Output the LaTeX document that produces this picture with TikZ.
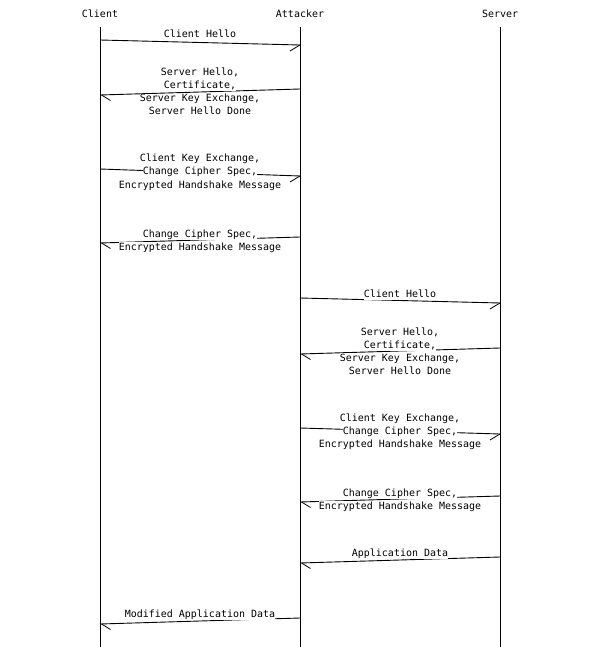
\documentclass[tikz,border=0pt]{standalone}
\usepackage{fontspec}
\setmonofont{DejaVu Sans Mono}
\begin{document}
\begin{tikzpicture}[x=1pt,y=-1pt,
  ent/.style={font=\ttfamily\fontsize{9.97}{12}\selectfont, inner sep=0pt, anchor=base},
  lbl/.style={font=\ttfamily\fontsize{9.97}{12}\selectfont, fill=white, inner sep=0pt, text height=8pt, text depth=2.5pt, anchor=base},
  msg/.style={line width=0.9pt},
  barb/.style={line width=0.8pt},
  life/.style={line width=1pt}]
\useasboundingbox (0,0) rectangle (600,647);
% entities
\node[ent] (client) at (100,18) {Client};
\node[ent] (attacker) at (300,18) {Attacker};
\node[ent] (server) at (500,18) {Server};
\coordinate (ct) at (100,27); \coordinate (cb) at (100,647);
\coordinate (at) at (300,27); \coordinate (ab) at (300,647);
\coordinate (st) at (500,27); \coordinate (sb) at (500,647);
\draw[life] (ct) -- (cb);
\draw[life] (at) -- (ab);
\draw[life] (st) -- (sb);
% message end points
\coordinate (m1s) at (100,40);  \coordinate (m1e) at (300,45);
\coordinate (m2s) at (300,89);  \coordinate (m2e) at (100,95);
\coordinate (m3s) at (100,169); \coordinate (m3e) at (300,176);
\coordinate (m4s) at (300,237); \coordinate (m4e) at (100,243);
\coordinate (m5s) at (300,298); \coordinate (m5e) at (500,303);
\coordinate (m6s) at (500,348); \coordinate (m6e) at (300,354);
\coordinate (m7s) at (300,428); \coordinate (m7e) at (500,434);
\coordinate (m8s) at (500,496); \coordinate (m8e) at (300,502);
\coordinate (m9s) at (500,557); \coordinate (m9e) at (300,563);
\coordinate (m10s) at (300,618); \coordinate (m10e) at (100,624);
% rightward messages
\foreach \m in {m1,m3,m5,m7}{
  \draw[msg] (\m s) -- (\m e);
  \draw[barb] (\m e) -- ++(-10,6);
}
% leftward messages
\foreach \m in {m2,m4,m6,m8,m9,m10}{
  \draw[msg] (\m s) -- (\m e);
  \draw[barb] ([xshift=1.5pt]\m e) -- ++(9,5.5);
}
% labels
\node[lbl] (l1) at (200,38) {Client Hello};
\node[lbl] (l2a) at (200,76) {Server Hello,};
\node[lbl] (l2b) at (200,89) {Certificate,};
\node[lbl] (l2c) at (200,102) {Server Key Exchange,};
\node[lbl] (l2d) at (200,115) {Server Hello Done};
\node[lbl] (l3a) at (200,162) {Client Key Exchange,};
\node[lbl] (l3b) at (200,175) {Change Cipher Spec,};
\node[lbl] (l3c) at (200,188) {Encrypted Handshake Message};
\node[lbl] (l4a) at (200,237) {Change Cipher Spec,};
\node[lbl] (l4b) at (200,250) {Encrypted Handshake Message};
\node[lbl] (l5) at (400,297) {Client Hello};
\node[lbl] (l6a) at (400,335) {Server Hello,};
\node[lbl] (l6b) at (400,348) {Certificate,};
\node[lbl] (l6c) at (400,361) {Server Key Exchange,};
\node[lbl] (l6d) at (400,374) {Server Hello Done};
\node[lbl] (l7a) at (400,421) {Client Key Exchange,};
\node[lbl] (l7b) at (400,434) {Change Cipher Spec,};
\node[lbl] (l7c) at (400,447) {Encrypted Handshake Message};
\node[lbl] (l8a) at (400,496) {Change Cipher Spec,};
\node[lbl] (l8b) at (400,509) {Encrypted Handshake Message};
\node[lbl] (l9) at (400,556) {Application Data};
\node[lbl] (l10) at (200,617) {Modified Application Data};
\end{tikzpicture}
\end{document}
